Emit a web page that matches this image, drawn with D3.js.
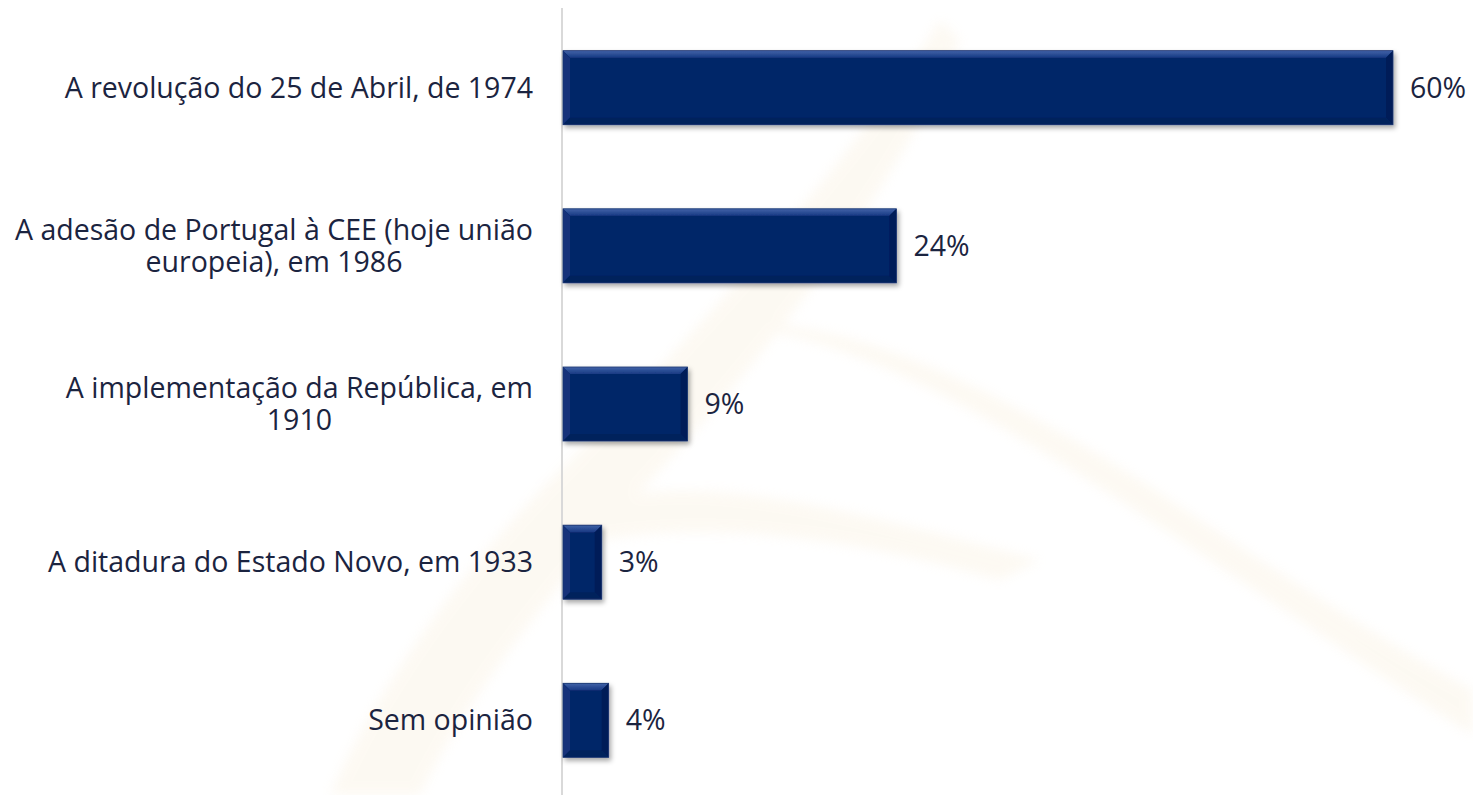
<!DOCTYPE html>
<html>
<head>
<meta charset="utf-8">
<title></title>
<style>
  body { margin: 0; background: #fff; }
  svg { display: block; }
  text { font-family: "Open Sans", sans-serif; fill: #1b2440; }
</style>
</head>
<body>
<svg id="chart" width="1473" height="795"></svg>
<script src="https://d3js.org/d3.v7.min.js"></script>
<script>
// data
const categories = [
  "A revolução do 25 de Abril, de 1974",
  "A adesão de Portugal à CEE (hoje união europeia), em 1986",
  "A implementação da República, em 1910",
  "A ditadura do Estado Novo, em 1933",
  "Sem opinião"
]
const values = [60, 24.1, 9, 2.8, 3.3]
const valueLabels = ["60%", "24%", "9%", "3%", "4%"]

const svg = d3.select("#chart")
const width = 1473, height = 795
const fontSize = 28.5

const defs = svg.append("defs")
defs.append("filter").attr("id", "soft")
  .append("feGaussianBlur").attr("stdDeviation", 6)

// faint watermark in the background
const wm = svg.append("g").attr("fill", "#f6e6c8").attr("opacity", 0.22)
  .attr("filter", "url(#soft)")
wm.append("path")
  .attr("d", "M940,20 C860,150 700,330 560,470 C470,560 380,680 330,795 L420,795 C470,690 560,580 660,470 C780,340 900,180 960,40 Z")
wm.append("path")
  .attr("d", "M690,330 C820,310 1000,420 1180,540 C1300,620 1400,690 1473,735 L1473,690 C1380,640 1260,560 1140,480 C980,380 820,300 690,330 Z")
wm.append("path")
  .attr("d", "M600,500 C720,470 880,520 1040,560 L1000,580 C860,540 720,520 600,540 Z")

const x = d3.scaleLinear().domain([0, 60]).range([563, 1393])
const y = d3.scaleBand().domain(categories).range([8, 800])
  .paddingInner(0.532).paddingOuter(0.27)

// axis line
svg.append("line")
  .attr("x1", 562).attr("x2", 562)
  .attr("y1", 8).attr("y2", height)
  .attr("stroke", "#d9d9d9").attr("stroke-width", 2)

const f = defs.append("filter").attr("id", "shadow")
  .attr("x", "-10%").attr("y", "-20%").attr("width", "130%").attr("height", "160%")
f.append("feDropShadow").attr("dx", 2).attr("dy", 3).attr("stdDeviation", 2.5)
  .attr("flood-color", "#000").attr("flood-opacity", 0.35)

const topGrad = defs.append("linearGradient").attr("id", "topGrad")
  .attr("x1", 0).attr("x2", 0).attr("y1", 0).attr("y2", 1)
topGrad.append("stop").attr("offset", "0%").attr("stop-color", "#4163a8")
topGrad.append("stop").attr("offset", "100%").attr("stop-color", "#173983")

const b = 7 // bevel size
const bars = svg.append("g").selectAll("g")
  .data(categories)
  .join("g")
  .attr("filter", "url(#shadow)")

function poly(pts) {
  return "M" + pts.map(p => p.join(",")).join("L") + "Z"
}

bars.each(function(d, i) {
  const g = d3.select(this)
  const x0 = x(0), x1 = x(values[i])
  const y0 = y(d), y1 = y0 + y.bandwidth()
  const bb = Math.min(b, (x1 - x0) / 3)
  g.append("rect").attr("x", x0).attr("y", y0)
    .attr("width", x1 - x0).attr("height", y1 - y0).attr("fill", "#062668")
  // top face
  g.append("path").attr("fill", "url(#topGrad)")
    .attr("d", poly([[x0, y0], [x1, y0], [x1 - bb, y0 + b], [x0 + bb, y0 + b]]))
  // left face
  g.append("path").attr("fill", "#12307a")
    .attr("d", poly([[x0, y0], [x0 + bb, y0 + b], [x0 + bb, y1 - b], [x0, y1]]))
  // right face
  g.append("path").attr("fill", "#031d58")
    .attr("d", poly([[x1, y0], [x1, y1], [x1 - bb, y1 - b], [x1 - bb, y0 + b]]))
  // bottom face
  g.append("path").attr("fill", "#04205c")
    .attr("d", poly([[x0, y1], [x0 + bb, y1 - b], [x1 - bb, y1 - b], [x1, y1]]))
  g.append("rect").attr("x", x0).attr("y", y0)
    .attr("width", x1 - x0).attr("height", y1 - y0)
    .attr("fill", "none").attr("stroke", "#1c3672").attr("stroke-width", 0.8)
})

// value labels
svg.append("g").selectAll("text")
  .data(categories)
  .join("text")
  .attr("x", (d, i) => x(values[i]) + 17)
  .attr("y", d => y(d) + y.bandwidth() / 2)
  .attr("dy", "0.35em")
  .attr("font-size", fontSize)
  .text((d, i) => valueLabels[i])

// category labels, wrapped, lines centred in a right-aligned block
const labelRight = 533, maxW = 525, lineH = 32
const labels = svg.append("g").selectAll("text")
  .data(categories)
  .join("text")
  .attr("font-size", fontSize)

labels.each(function(d) {
  const t = d3.select(this)
  const words = d.split(" ")
  const lines = []
  let cur = []
  const probe = t.append("tspan")
  for (const w of words) {
    const test = cur.concat([w]).join(" ")
    probe.text(test)
    if (probe.node().getComputedTextLength() > maxW && cur.length) {
      lines.push(cur.join(" "))
      cur = [w]
    } else {
      cur.push(w)
    }
  }
  lines.push(cur.join(" "))
  let blockW = 0
  for (const l of lines) {
    probe.text(l)
    blockW = Math.max(blockW, probe.node().getComputedTextLength())
  }
  probe.remove()
  const cx = labelRight - blockW / 2
  const cy = y(d) + y.bandwidth() / 2
  lines.forEach((l, k) => {
    t.append("tspan")
      .attr("x", cx)
      .attr("y", cy + (k - (lines.length - 1) / 2) * lineH)
      .attr("dy", "0.35em")
      .attr("text-anchor", "middle")
      .text(l)
  })
})
</script>
</body>
</html>
